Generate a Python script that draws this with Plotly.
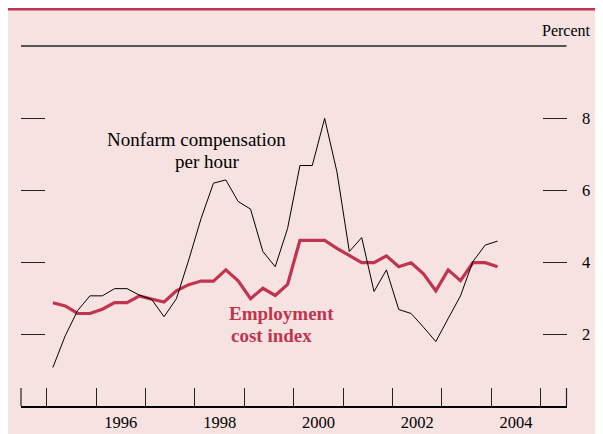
import plotly.graph_objects as go

# Quarterly data, 1995Q1 - 2004Q1 (percent change from year earlier)
quarters = [f"{y}Q{q}" for y in range(1995, 2005) for q in range(1, 5)][:37]
nonfarm_comp = [1.07, 1.95, 2.65, 3.06,
                3.06, 3.26, 3.26, 3.08,
                2.96, 2.48, 2.98, 4.06,
                5.21, 6.19, 6.28, 5.68,
                5.47, 4.29, 3.87, 4.93,
                6.68, 6.68, 7.99, 6.50,
                4.29, 4.68, 3.18, 3.78,
                2.68, 2.57, 2.19, 1.79,
                2.43, 3.06, 4.01, 4.47,
                4.58]
eci = [2.87, 2.78, 2.57, 2.57,
       2.69, 2.87, 2.87, 3.06,
       2.97, 2.89, 3.20, 3.37,
       3.47, 3.47, 3.78, 3.48,
       2.98, 3.27, 3.07, 3.38,
       4.60, 4.60, 4.60, 4.38,
       4.18, 3.98, 3.98, 4.17,
       3.87, 3.98, 3.67, 3.20,
       3.78, 3.48, 3.98, 3.98,
       3.87]
year_ticks = list(range(1995, 2006))
label_years = [1996, 1998, 2000, 2002, 2004]
y_ticks = [2, 4, 6, 8]

def qpos(q):
    y, n = q.split("Q")
    return int(y) + (int(n) - 0.5) / 4

xq = [qpos(q) for q in quarters]

PINK = "#f6e2e1"
CRIMSON = "#c0344f"
FONT = "Liberation Serif"
XR = [1994.48, 2005.52]
YR = [0, 10]
XDOM = [0, 545.5 / 560]

fig = go.Figure()
fig.add_trace(go.Scatter(x=xq, y=eci, mode="lines",
                         line=dict(color=CRIMSON, width=3.2), hoverinfo="skip"))
fig.add_trace(go.Scatter(x=xq, y=nonfarm_comp, mode="lines",
                         line=dict(color="black", width=1), hoverinfo="skip"))
# invisible traces for the secondary axes
fig.add_trace(go.Scatter(x=[XR[0]], y=[YR[0]], mode="markers",
                         marker=dict(opacity=0), xaxis="x2", yaxis="y2",
                         hoverinfo="skip"))
fig.add_trace(go.Scatter(x=[XR[0]], y=[YR[0]], mode="markers",
                         marker=dict(opacity=0), xaxis="x", yaxis="y3",
                         hoverinfo="skip"))

fig.update_layout(
    width=595, height=426,
    margin=dict(l=13, r=22, t=38, b=28),
    paper_bgcolor=PINK,
    plot_bgcolor="rgba(0,0,0,0)",
    showlegend=False,
    font=dict(family=FONT, color="black", size=16),
    xaxis=dict(domain=XDOM, range=XR, tickvals=year_ticks, ticks="inside",
               ticklen=18, tickwidth=1.2, tickcolor="#222",
               showticklabels=False, showgrid=False, zeroline=False,
               showline=True, linecolor="black", linewidth=1.5,
               mirror=False, automargin=False),
    xaxis2=dict(domain=XDOM, range=XR, overlaying="x", side="bottom",
                tickvals=[y + 0.5 for y in label_years],
                ticktext=[str(y) for y in label_years],
                ticks="", showgrid=False, zeroline=False, showline=False,
                tickfont=dict(size=16.5, family=FONT), ticklabelstandoff=4,
                automargin=False),
    yaxis=dict(range=YR, side="right", tickvals=y_ticks, ticks="inside",
               ticklen=24, tickwidth=1.2, tickcolor="#222",
               showticklabels=False,
               showgrid=False, zeroline=False, showline=False,
               automargin=False),
    yaxis2=dict(range=YR, overlaying="y", side="left", tickvals=y_ticks,
                ticks="inside", ticklen=24, tickwidth=1.2, tickcolor="#222",
                showticklabels=False, showgrid=False, zeroline=False,
                showline=False, automargin=False),
    yaxis3=dict(range=YR, overlaying="y", side="right", anchor="free",
                position=1.0, tickvals=y_ticks, ticks="",
                showgrid=False, zeroline=False, showline=False,
                tickfont=dict(size=16.5, family=FONT), automargin=False),
)

shapes = [
    # crimson top rule
    dict(type="line", xref="paper", yref="paper", x0=-0.03, x1=1.08,
         y0=1.102, y1=1.102, line=dict(color=CRIMSON, width=2.5)),
    # top line at 10
    dict(type="line", xref="x domain", yref="y domain", x0=0, x1=1,
         y0=1, y1=1, line=dict(color="#555", width=1.8)),
    # frame end ticks
    dict(type="line", xref="x domain", yref="y domain", x0=0, x1=0,
         y0=0, y1=0.05, line=dict(color="#222", width=1.2)),
    dict(type="line", xref="x domain", yref="y domain", x0=1, x1=1,
         y0=0, y1=0.05, line=dict(color="#222", width=1.2)),
]
fig.update_layout(shapes=shapes)

fig.add_annotation(text="Percent", xref="paper", yref="paper",
                   x=1.0214, y=1.044, xanchor="right", yanchor="middle",
                   showarrow=False, font=dict(size=16, family=FONT))
fig.add_annotation(text="Nonfarm compensation", x=1998.04, y=7.4,
                   xanchor="center", yanchor="middle", showarrow=False,
                   font=dict(size=19, family=FONT))
fig.add_annotation(text="per hour", x=1998.26, y=6.8,
                   xanchor="center", yanchor="middle", showarrow=False,
                   font=dict(size=19, family=FONT))
fig.add_annotation(text="<b>Employment</b>", x=1998.64, y=2.58,
                   xanchor="left", yanchor="middle", showarrow=False,
                   font=dict(size=19, family=FONT, color=CRIMSON))
fig.add_annotation(text="<b>cost index</b>", x=1998.68, y=1.97,
                   xanchor="left", yanchor="middle", showarrow=False,
                   font=dict(size=19, family=FONT, color=CRIMSON))

fig.write_html("out.html")
